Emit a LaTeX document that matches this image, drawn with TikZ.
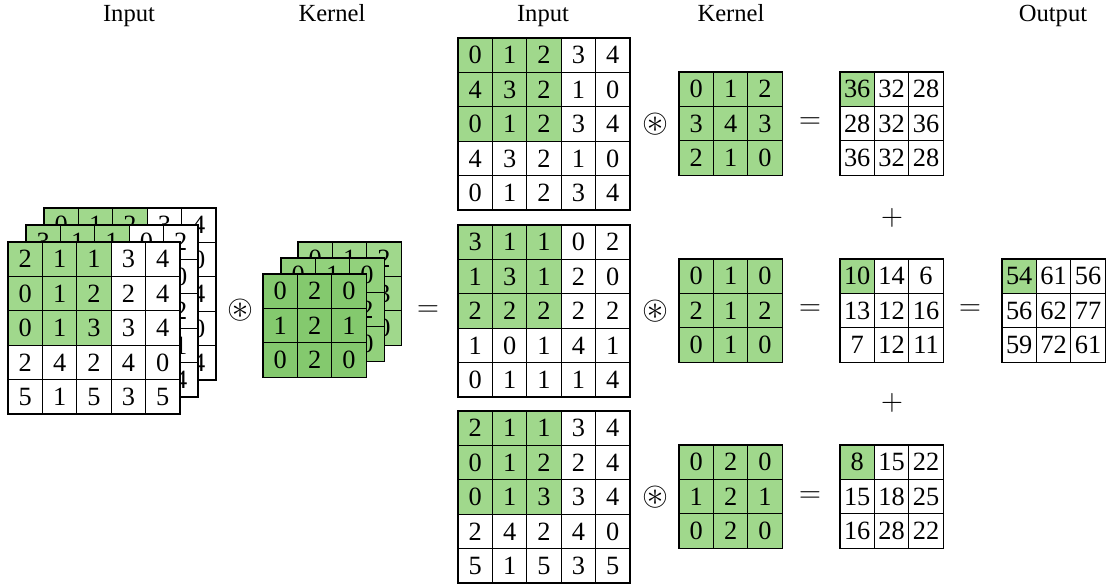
\documentclass[tikz,border=0pt]{standalone}
\usepackage{amsmath,amssymb}
\usepackage{fontspec}
\setmainfont{Liberation Serif}
\usepackage{tikz}
\usetikzlibrary{calc,positioning}

\definecolor{cellgreen}{RGB}{160,216,140}
\definecolor{midgreen}{RGB}{146,209,124}
\definecolor{deepgreen}{RGB}{132,201,110}

\tikzset{
  cell/.style={draw=black,line width=0.75pt,minimum size=0.688cm,inner sep=0pt,
    font=\fontsize{15}{17}\selectfont},
  head/.style={anchor=base,font=\fontsize{14}{16}\selectfont},
  op/.style={inner sep=0pt,font=\fontsize{19}{21}\selectfont}
}

% grid of numbers: name, top-left corner, rows, size of shaded block, shade
\newcommand{\numgrid}[5]{%
  \foreach \row [count=\r] in {#3} {
    \foreach \v [count=\c] in \row {
      \ifnum\r>#4\relax \def\cellfill{white}\else
        \ifnum\c>#4\relax \def\cellfill{white}\else \def\cellfill{#5}\fi\fi
      \node[cell,fill=\cellfill] (#1-\r-\c) at ($(#2)+({(\c-0.5)*34.4},{(\r-0.5)*34.4})$) {\v};
    }
  }
}

\begin{document}
\begin{tikzpicture}[x=0.02cm,y=-0.02cm]
\useasboundingbox (0,0) rectangle (1110,586);
% headings
\node[head] (hin1) at (129,21) {Input};
\node[head] (hk1) at (332,21) {Kernel};
\node[head] (hin2) at (543,21) {Input};
\node[head] (hk2) at (731,21) {Kernel};
\node[head] (hout) at (1053,21) {Output};
% stacked input channels
\numgrid{sa}{44,208}{{0,1,2,3,4},{4,3,2,1,0},{0,1,2,3,4},{4,3,2,1,0},{0,1,2,3,4}}{3}{cellgreen}
\numgrid{sb}{26,225}{{3,1,1,0,2},{1,3,1,2,0},{2,2,2,2,2},{1,0,1,4,1},{0,1,1,1,4}}{3}{cellgreen}
\numgrid{sc}{8,242}{{2,1,1,3,4},{0,1,2,2,4},{0,1,3,3,4},{2,4,2,4,0},{5,1,5,3,5}}{3}{cellgreen}
\node[op] (conv0) at (240,310) {$\circledast$};
% stacked kernels
\numgrid{ska}{298,242}{{0,1,2},{3,4,3},{2,1,0}}{3}{cellgreen}
\numgrid{skb}{281,258}{{0,1,0},{2,1,2},{0,1,0}}{3}{midgreen}
\numgrid{skc}{263,274}{{0,2,0},{1,2,1},{0,2,0}}{3}{deepgreen}
\node[op] (eq0) at (428,311) {$=$};
% channel 1
\numgrid{ina}{458,38}{{0,1,2,3,4},{4,3,2,1,0},{0,1,2,3,4},{4,3,2,1,0},{0,1,2,3,4}}{3}{cellgreen}
\node[op] (conva) at (655,124) {$\circledast$};
\numgrid{ka}{679,72}{{0,1,2},{3,4,3},{2,1,0}}{3}{cellgreen}
\node[op] (eqa) at (810,123) {$=$};
\numgrid{outa}{840,72}{{36,32,28},{28,32,36},{36,32,28}}{1}{cellgreen}
\node[op] (plusa) at (892,218) {$+$};
% channel 2
\numgrid{inb}{458,225}{{3,1,1,0,2},{1,3,1,2,0},{2,2,2,2,2},{1,0,1,4,1},{0,1,1,1,4}}{3}{cellgreen}
\node[op] (convb) at (655,311) {$\circledast$};
\numgrid{kb}{679,259}{{0,1,0},{2,1,2},{0,1,0}}{3}{cellgreen}
\node[op] (eqb) at (810,310) {$=$};
\numgrid{outb}{840,259}{{10,14,6},{13,12,16},{7,12,11}}{1}{cellgreen}
\node[op] (plusb) at (892,403) {$+$};
% channel 3
\numgrid{inc}{458,411}{{2,1,1,3,4},{0,1,2,2,4},{0,1,3,3,4},{2,4,2,4,0},{5,1,5,3,5}}{3}{cellgreen}
\node[op] (convc) at (655,497) {$\circledast$};
\numgrid{kc}{679,445}{{0,2,0},{1,2,1},{0,2,0}}{3}{cellgreen}
\node[op] (eqc) at (810,497) {$=$};
\numgrid{outc}{840,445}{{8,15,22},{15,18,25},{16,28,22}}{1}{cellgreen}
% sum of the channels
\node[op] (eqsum) at (970,310) {$=$};
\numgrid{sum}{1002,259}{{54,61,56},{56,62,77},{59,72,61}}{1}{cellgreen}
\end{tikzpicture}
\end{document}
